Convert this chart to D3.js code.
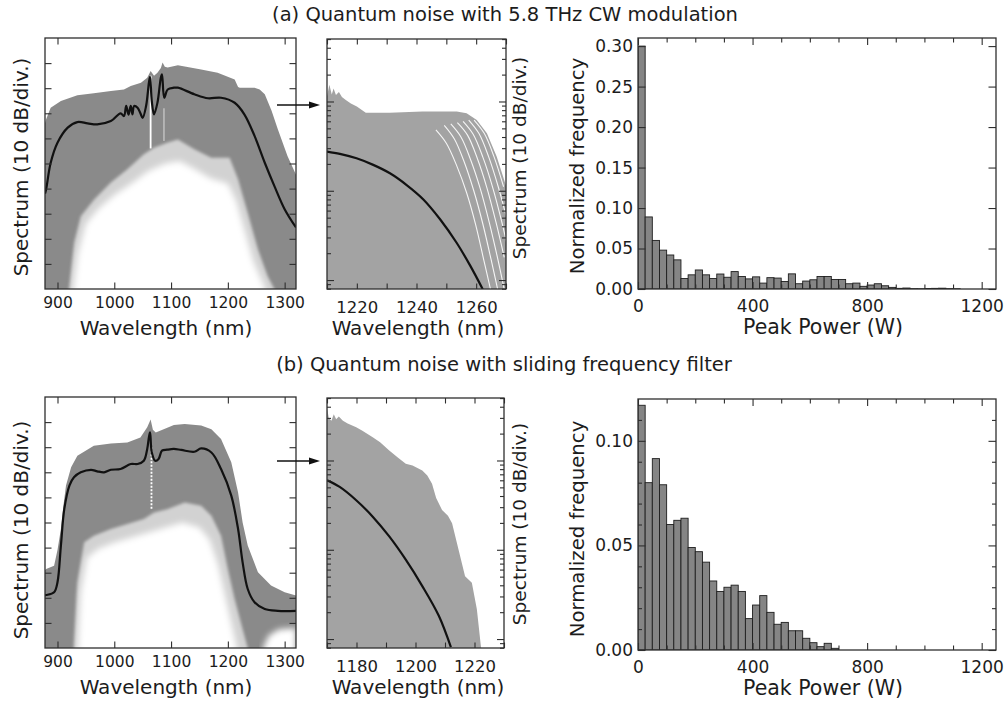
<!DOCTYPE html>
<meta charset="utf-8">
<script src="https://d3js.org/d3.v7.min.js"></script>
<style>
  body { margin: 0; background: #fff; }
  svg text { font-family: "DejaVu Sans", "Liberation Sans", Arial, sans-serif; fill: #1c1c1c; }
</style>
<body>
<div id="chart"></div>
<script>
// ---------------- data ----------------
// (a) full spectrum, levels in divisions (10 dB/div), [wavelength nm, level]
const a1Envelope = [[878,6.6],[880,6.76],[888,7.22],[906,7.49],[935,7.72],[964,7.8],[994,7.89],[1017,7.95],[1029,8.09],[1047,8.22],[1058,8.42],[1064,8.69],[1070,8.5],[1076,8.62],[1082,8.8],[1085,9.02],[1089,8.85],[1094,8.82],[1112,8.91],[1153,8.75],[1182,8.62],[1212,8.35],[1218,8.05],[1221,8.02],[1247,8.02],[1256,7.95],[1265,7.76],[1277,7.1],[1288,6.36],[1305,5.3],[1320,4.55]];
const a1Mean = [[878,3.8],[880,3.97],[888,5.03],[900,5.83],[918,6.43],[935,6.65],[953,6.6],[970,6.56],[994,6.69],[1011,7.0],[1017,6.89],[1021,7.3],[1025,6.95],[1029,7.3],[1032,6.96],[1035,7.29],[1041,7.22],[1046,7.0],[1050,6.82],[1056,7.29],[1061,8.22],[1063,8.45],[1066,7.49],[1070,6.96],[1076,7.42],[1082,8.42],[1084,8.55],[1088,7.62],[1094,7.95],[1105,8.02],[1112,8.02],[1141,7.76],[1165,7.6],[1188,7.62],[1212,7.42],[1229,6.96],[1247,6.1],[1265,5.03],[1282,4.1],[1300,3.18],[1320,2.45]];
const a1Dense = [[920.6,0],[929.4,1.85],[941,2.9],[964.5,3.57],[994,4.24],[1023,4.77],[1052,5.37],[1070,5.63],[1093,5.83],[1112,5.96],[1141,5.57],[1171,5.23],[1203,5.23],[1218,4.37],[1235,3.04],[1253,1.58],[1270,0.52],[1282,0]];
const a1Hole = [[928,0],[936,1.4],[950,2.6],[972,3.2],[1000,3.75],[1030,4.2],[1060,4.7],[1090,5.0],[1115,5.1],[1140,4.8],[1170,4.4],[1200,4.2],[1215,3.5],[1230,2.3],[1245,1.1],[1266,0]];
const a1Spikes = [[1064,8.5,5.6],[1087.5,7.2,5.9]];

// (b) full spectrum
const b1Envelope = [[878,3.1],[880,3.15],[894,3.28],[900,3.9],[906,4.74],[910,5.6],[915,6.47],[924,7.2],[935,7.66],[964,8.06],[994,8.15],[1023,8.19],[1046,8.39],[1058,8.79],[1064,9.1],[1068,8.7],[1073,8.59],[1087,8.72],[1105,8.88],[1124,8.92],[1153,8.86],[1171,8.72],[1188,8.33],[1206,7.4],[1218,6.2],[1226,5.0],[1235,4.08],[1253,3.02],[1276,2.49],[1300,2.22],[1320,2.09]];
const b1Mean = [[878,2.1],[880,2.11],[894,2.22],[900,2.62],[906,4.08],[912,5.54],[921,6.47],[929,6.8],[941,7.0],[959,7.1],[970,7.04],[982,7.0],[994,7.1],[1011,7.13],[1029,7.33],[1041,7.33],[1052,7.46],[1058,7.93],[1061,8.4],[1063,8.59],[1066,7.8],[1072,7.46],[1078,7.53],[1084,7.86],[1093,7.9],[1105,7.93],[1118,7.89],[1141,7.82],[1153,7.95],[1171,7.79],[1188,7.13],[1206,6.07],[1218,4.74],[1226,3.41],[1235,2.35],[1247,1.82],[1265,1.55],[1288,1.48],[1320,1.48]];
const b1Dense = [[929,0],[935,2.61],[947,4.21],[964,4.47],[994,4.74],[1023,4.94],[1052,5.14],[1070,5.4],[1093,5.53],[1124,5.8],[1153,5.67],[1171,5.27],[1188,4.47],[1200,3.15],[1212,1.95],[1226,0.76],[1235,0]];
const b1Hole = [[936,0],[941,2.2],[952,3.6],[972,3.95],[1000,4.2],[1030,4.4],[1060,4.6],[1090,4.8],[1120,5.0],[1150,4.8],[1168,4.3],[1183,3.3],[1196,2.0],[1207,0.9],[1216,0]];
const b1Corner = [[1262,0],[1272,0.5],[1290,0.75],[1320,0.8]];
const b1Spikes = [[1065.5,8.0,5.5]];

// (a) zoomed edge, linear power (log axis), [wavelength nm, value]
const a2Envelope = [[1210,114],[1210.8,154],[1211.6,120],[1212.2,140],[1213,118],[1214,128],[1215,112],[1216.3,104],[1218,95],[1220,88],[1223,75],[1231,75],[1242,77],[1253.5,77],[1256.8,74],[1260.2,62],[1263.6,44],[1266.9,24],[1270.1,11.1],[1273.1,4.7]];
const a2Gaps = [
  [[1259.3,62],[1262.7,44],[1266,24],[1269.2,11.1]],
  [[1257.5,62],[1260.9,44],[1264.2,24],[1267.4,11.1],[1270.4,4.7]],
  [[1255.6,60],[1259,43],[1262.3,23.5],[1265.5,11],[1268.5,4.6],[1271.3,1.8]],
  [[1253.7,58],[1257.1,42],[1260.4,23],[1263.6,10.8],[1266.6,4.5],[1269.4,1.8]],
  [[1251.5,56],[1254.9,40],[1258.2,22],[1261.4,10.5],[1264.4,4.4],[1267.2,1.75],[1269.4,0.79]],
  [[1249.3,54],[1252.7,38],[1256,21],[1259.2,10],[1262.2,4.3],[1265,1.7],[1267.2,0.79]],
  [[1246.5,48],[1250,34],[1253.5,19],[1256.8,9.5],[1259.8,4.2],[1262.6,1.65],[1264.8,0.79]]
];
const a2Mean = [[1210,27.5],[1214.3,25.9],[1219.9,23.1],[1225.5,19.5],[1231.1,15.7],[1236.7,11.6],[1242.3,8.0],[1247.9,4.8],[1253.5,2.6],[1258,1.45],[1262.2,0.79]];

// (b) zoomed edge
const b2Envelope = [[1170,391],[1170.6,300],[1171.5,278],[1172.3,330],[1173.1,290],[1174,310],[1175.4,278],[1177,260],[1179.9,235],[1182,215],[1185.5,182],[1188,160],[1191.1,129],[1194,108],[1196.7,91.8],[1199,88],[1202.3,77.4],[1204,68],[1205.6,55],[1207,38],[1209,27.8],[1211,24],[1212.4,19.8],[1214.6,10],[1216.8,5.05],[1219.1,4.26],[1220.8,2.15],[1222.2,0.81],[1223,0.7]];
const b2Mean = [[1170,60],[1174.3,50.6],[1179.9,35.9],[1185.5,23.5],[1191.1,14.1],[1196.7,7.74],[1202.3,3.92],[1207.9,1.82],[1212,0.81]];

// peak power histograms, 25 W bins starting at 0 W
const binWidth = 25;
const aHist = [0.300,0.089,0.060,0.048,0.042,0.036,0.013,0.0175,0.0235,0.0175,0.013,0.0185,0.0145,0.0215,0.0155,0.0125,0.015,0.0073,0.014,0.0135,0.0093,0.0187,0.0065,0.0098,0.0114,0.0154,0.0154,0.0118,0.0118,0.0065,0.0073,0.0033,0.0049,0.0065,0.004,0.002,0.0008,0.0012,0.0004,0.0003,0.0006,0.0008,0.001,0.0004,0.0003];
const bHist = [0.117,0.080,0.0915,0.079,0.060,0.062,0.063,0.049,0.047,0.042,0.033,0.028,0.030,0.031,0.028,0.015,0.0215,0.026,0.018,0.0123,0.0132,0.0092,0.0092,0.0056,0.0035,0.0016,0.0032,0.0008];

const specTicksX = [900,1000,1100,1200,1300];
const specTicksY = [1,2,3,4,5,6,7,8,9];
const aZoomTicks = [1210,1220,1230,1240,1250,1260,1270];
const bZoomTicks = [1170,1180,1190,1200,1210,1220,1230];
const histTicksX = [0,400,800,1200];
const histMinorX = [100,200,300,500,600,700,900,1000,1100];
const aHistTicksY = [0,0.05,0.10,0.15,0.20,0.25,0.30];
const bHistTicksY = [0,0.05,0.10];
const bHistMinorY = [0.01,0.02,0.03,0.04,0.06,0.07,0.08,0.09,0.11];

const titles = ["(a) Quantum noise with 5.8 THz CW modulation", "(b) Quantum noise with sliding frequency filter"];

// ---------------- drawing ----------------
const svg = d3.select("#chart").append("svg").attr("width", 1008).attr("height", 706);
const defs = svg.append("defs");
[["soft",0.6],["blur2",1.6],["blur4",3.4]].forEach(function(f) {
  defs.append("filter").attr("id", f[0]).attr("x","-10%").attr("y","-10%").attr("width","120%").attr("height","120%")
    .append("feGaussianBlur").attr("stdDeviation", f[1]);
});

function clip(id, b) {
  defs.append("clipPath").attr("id", id).append("rect")
    .attr("x", b.x0).attr("y", b.y0).attr("width", b.x1 - b.x0).attr("height", b.y1 - b.y0);
  return svg.append("g").attr("clip-path", "url(#" + id + ")");
}

function frame(b) {
  svg.append("rect").attr("x", b.x0).attr("y", b.y0).attr("width", b.x1 - b.x0).attr("height", b.y1 - b.y0)
    .attr("fill", "none").attr("stroke", "#2e2e2e").attr("stroke-width", 1.3);
}

function addAxis(gen, tr, values, fmt, len, pad, fs) {
  const g = svg.append("g").attr("transform", tr)
    .call(gen.tickValues(values).tickFormat(fmt || (() => "")).tickSizeInner(-len).tickSizeOuter(0).tickPadding(pad || 0));
  g.attr("font-family", null).attr("font-size", fs || 16);
  g.select(".domain").remove();
  g.selectAll("line").attr("stroke", "#2e2e2e").attr("stroke-width", 1.1);
  g.selectAll("text").attr("fill", "#1c1c1c");
  return g;
}

function label(txt, x, y, rot, fs) {
  svg.append("text").attr("text-anchor", "middle").attr("font-size", fs)
    .attr("transform", "translate(" + x + "," + y + ")" + (rot ? "rotate(-90)" : ""))
    .text(txt);
}

function spectrumPanel(id, b, yLab, spec) {
  const x = d3.scaleLinear().domain([878, 1320]).range([b.x0, b.x1]);
  const y = d3.scaleLinear().domain([0, 10]).range([b.y1, b.y0]);
  const g = clip(id, b);
  const below = b.y1 + 30;
  const area = d3.area().x(d => x(d[0])).y0(below).y1(d => y(d[1]));
  g.append("path").datum(spec.envelope).attr("d", area).attr("fill", "#8a8a8a").attr("filter", "url(#soft)");
  g.append("path").datum(spec.dense).attr("d", area).attr("fill", "#d2d2d2").attr("filter", "url(#blur2)");
  g.append("path").datum(spec.hole).attr("d", area).attr("fill", "#fff").attr("filter", "url(#blur4)");
  if (spec.corner) g.append("path").datum(spec.corner).attr("d", area).attr("fill", "#fff").attr("filter", "url(#blur4)");
  g.selectAll(".spike").data(spec.spikes).enter().append("line")
    .attr("x1", d => x(d[0])).attr("x2", d => x(d[0])).attr("y1", d => y(d[1])).attr("y2", d => y(d[2]))
    .attr("stroke", "#fff").attr("stroke-width", (d, i) => i === 0 ? 1.8 : 1)
    .attr("stroke-opacity", (d, i) => i === 0 ? 1 : 0.7)
    .attr("stroke-dasharray", spec.dashSpike ? "2,1.5" : null);
  g.append("path").datum(spec.mean)
    .attr("d", d3.line().x(d => x(d[0])).y(d => y(d[1])).curve(d3.curveCatmullRom.alpha(0.5)))
    .attr("fill", "none").attr("stroke", "#111").attr("stroke-width", 2.2);
  frame(b);
  addAxis(d3.axisBottom(x), "translate(0," + b.y1 + ")", specTicksX, d3.format("d"), 6.5, 8, 15.5);
  addAxis(d3.axisTop(x), "translate(0," + b.y0 + ")", specTicksX, null, 6.5);
  addAxis(d3.axisLeft(y), "translate(" + b.x0 + ",0)", specTicksY, null, 6.5);
  addAxis(d3.axisRight(y), "translate(" + b.x1 + ",0)", specTicksY, null, 6.5);
  label("Wavelength (nm)", 166, b.y1 + 46, false, 20);
  label("Spectrum (10 dB/div.)", 28, yLab, true, 20);
}

function zoomPanel(id, b, xDomain, xTicks, yLab, spec) {
  const x = d3.scaleLinear().domain(xDomain).range([b.x0, b.x1]);
  const y = d3.scaleLog().domain([0.794, 501]).range([b.y1, b.y0]);
  const g = clip(id, b);
  const area = d3.area().x(d => x(d[0])).y0(b.y1 + 30).y1(d => y(d[1]));
  g.append("path").datum(spec.envelope).attr("d", area).attr("fill", "#a3a3a3").attr("filter", "url(#soft)");
  (spec.gaps || []).forEach(function(gp) {
    g.append("path").datum(gp)
      .attr("d", d3.line().x(d => x(d[0])).y(d => y(d[1])).curve(d3.curveCatmullRom))
      .attr("fill", "none").attr("stroke", "#fff").attr("stroke-width", 1.1).attr("stroke-opacity", 0.9);
  });
  g.append("path").datum(spec.mean)
    .attr("d", d3.line().x(d => x(d[0])).y(d => y(d[1])).curve(d3.curveCatmullRom))
    .attr("fill", "none").attr("stroke", "#111").attr("stroke-width", 2.2);
  frame(b);
  const all = y.ticks();
  const major = all.filter(v => Math.abs(Math.log10(v) - Math.round(Math.log10(v))) < 1e-6);
  const minor = all.filter(v => major.indexOf(v) < 0);
  addAxis(d3.axisBottom(x), "translate(0," + b.y1 + ")", xTicks, v => (v % 20 === 0 ? v : ""), 5.5, 12.5, 16.5);
  addAxis(d3.axisTop(x), "translate(0," + b.y0 + ")", xTicks, null, 5.5);
  addAxis(d3.axisLeft(y), "translate(" + b.x0 + ",0)", major, null, 7);
  addAxis(d3.axisLeft(y), "translate(" + b.x0 + ",0)", minor, null, 4);
  addAxis(d3.axisRight(y), "translate(" + b.x1 + ",0)", major, null, 7);
  addAxis(d3.axisRight(y), "translate(" + b.x1 + ",0)", minor, null, 4);
  label("Wavelength (nm)", 418, b.y1 + 46, false, 20);
  label("Spectrum (10 dB/div.)", 526, yLab, true, 18.5);
}

function histPanel(id, b, values, yMax, yTicks, yMinor, yLab) {
  const x = d3.scaleLinear().domain([0, 1250]).range([b.x0, b.x1]);
  const y = d3.scaleLinear().domain([0, yMax]).range([b.y1, b.y0]);
  const g = clip(id, b);
  g.selectAll("rect").data(values).enter().append("rect")
    .attr("x", (d, i) => x(i * binWidth)).attr("width", x(binWidth) - x(0))
    .attr("y", d => y(d)).attr("height", d => y(0) - y(d))
    .attr("fill", "#858585").attr("stroke", "#1e1e1e").attr("stroke-width", 0.9);
  frame(b);
  addAxis(d3.axisBottom(x), "translate(0," + b.y1 + ")", histTicksX, d3.format("d"), 7, 10.5, 17);
  addAxis(d3.axisBottom(x), "translate(0," + b.y1 + ")", histMinorX, null, 4.5);
  addAxis(d3.axisTop(x), "translate(0," + b.y0 + ")", histTicksX, null, 7);
  addAxis(d3.axisTop(x), "translate(0," + b.y0 + ")", histMinorX, null, 4.5);
  addAxis(d3.axisLeft(y), "translate(" + b.x0 + ",0)", yTicks, d3.format(".2f"), 7.5, 5, 17);
  addAxis(d3.axisRight(y), "translate(" + b.x1 + ",0)", yTicks, null, 7.5);
  if (yMinor) {
    addAxis(d3.axisLeft(y), "translate(" + b.x0 + ",0)", yMinor, null, 4);
    addAxis(d3.axisRight(y), "translate(" + b.x1 + ",0)", yMinor, null, 4);
  }
  label("Peak Power (W)", 823, b.y1 + 45, false, 20.5);
  label("Normalized frequency", 584, yLab, true, 19.7);
}

function arrow(x0, x1, yy) {
  svg.append("line").attr("x1", x0).attr("x2", x1 - 8).attr("y1", yy).attr("y2", yy)
    .attr("stroke", "#111").attr("stroke-width", 1.3);
  svg.append("path").attr("d", "M" + x1 + "," + yy + "L" + (x1 - 11) + "," + (yy - 3.5) + "L" + (x1 - 11) + "," + (yy + 3.5) + "Z")
    .attr("fill", "#111");
}

// row (a)
svg.append("text").attr("x", 505).attr("y", 21).attr("text-anchor", "middle").attr("font-size", 19.5).text(titles[0]);
spectrumPanel("ca1", {x0: 45, x1: 296, y0: 38, y1: 289}, 167,
  {envelope: a1Envelope, mean: a1Mean, dense: a1Dense, hole: a1Hole, spikes: a1Spikes});
zoomPanel("ca2", {x0: 327, x1: 506, y0: 39, y1: 289}, [1210, 1270], aZoomTicks, 158,
  {envelope: a2Envelope, gaps: a2Gaps, mean: a2Mean});
histPanel("ca3", {x0: 638, x1: 996, y0: 38, y1: 289}, aHist, 0.31, aHistTicksY, null, 166);
arrow(277, 320, 105);

// row (b)
svg.append("text").attr("x", 504).attr("y", 371).attr("text-anchor", "middle").attr("font-size", 19.5).text(titles[1]);
spectrumPanel("cb1", {x0: 45, x1: 296, y0: 397, y1: 648}, 530,
  {envelope: b1Envelope, mean: b1Mean, dense: b1Dense, hole: b1Hole, corner: b1Corner, spikes: b1Spikes, dashSpike: true});
zoomPanel("cb2", {x0: 327, x1: 504, y0: 398, y1: 648}, [1170, 1230], bZoomTicks, 524,
  {envelope: b2Envelope, mean: b2Mean});
histPanel("cb3", {x0: 638, x1: 996, y0: 399, y1: 650}, bHist, 0.12, bHistTicksY, bHistMinorY, 529);
arrow(277, 320, 461);
</script>
</body>
